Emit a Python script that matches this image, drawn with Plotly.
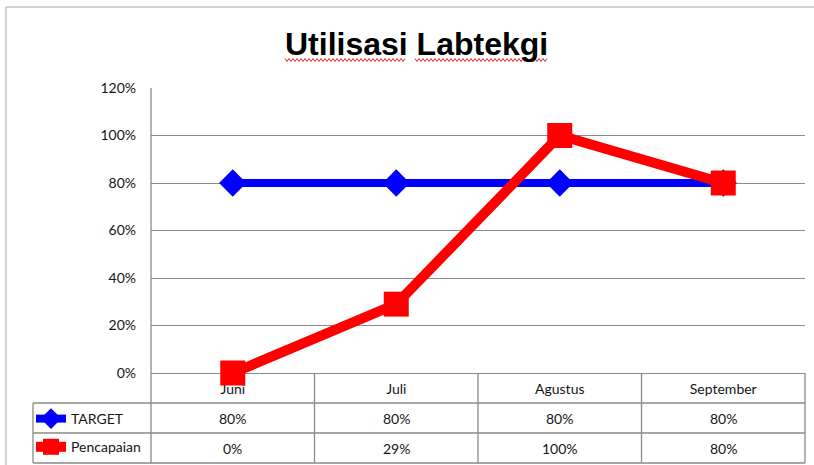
import plotly.graph_objects as go

categories = ["Juni", "Juli", "Agustus", "September"]
target = [0.80, 0.80, 0.80, 0.80]
pencapaian = [0.00, 0.29, 1.00, 0.80]
series_names = ["TARGET", "Pencapaian"]
y_ticks = [0, 0.2, 0.4, 0.6, 0.8, 1.0, 1.2]
y_tick_labels = ["0%", "20%", "40%", "60%", "80%", "100%", "120%"]
title_text = "Utilisasi Labtekgi"

W, H = 814, 465
def px(x): return x / W
def py(y): return 1 - y / H

X0, X1 = 151, 805     # plot area pixels
Y0, Y1 = 88, 373
ROW = 30
LEG_X = 33
GRID = "#8a8a8a"
TXT = "#151515"
FONT = "Lato, 'Open Sans', sans-serif"

fig = go.Figure()
fig.add_trace(go.Scatter(
    x=categories, y=target, name=series_names[0], mode="lines+markers",
    line=dict(color="#0000ff", width=8),
    marker=dict(symbol="diamond", size=21, color="#0000ff"),
    cliponaxis=False, legendgroup="a"))
fig.add_trace(go.Scatter(
    x=categories, y=pencapaian, name=series_names[1], mode="lines+markers",
    line=dict(color="#ff0000", width=10),
    marker=dict(symbol="square", size=25, color="#ff0000"),
    cliponaxis=False, legendgroup="b"))

shapes = []
# outer border
shapes.append(dict(type="rect", xref="paper", yref="paper", x0=px(6), x1=px(830),
                   y0=py(7), y1=py(480), line=dict(color="#a8a8a8", width=1)))
# table horizontal lines
for i in (1, 2, 3):
    yy = Y1 + ROW * i
    shapes.append(dict(type="line", xref="paper", yref="paper", x0=px(LEG_X), x1=px(X1),
                       y0=py(yy), y1=py(yy), line=dict(color=GRID, width=1.3)))
# column boundaries in table
ncat = len(categories)
for k in range(1, ncat + 1):
    xx = X0 + (X1 - X0) * k / ncat
    shapes.append(dict(type="line", xref="paper", yref="paper", x0=px(xx), x1=px(xx),
                       y0=py(Y1), y1=py(Y1 + 3 * ROW), line=dict(color=GRID, width=1.3)))
# left axis extends down through table
shapes.append(dict(type="line", xref="paper", yref="paper", x0=px(X0), x1=px(X0),
                   y0=py(Y0), y1=py(Y1 + 3 * ROW), line=dict(color=GRID, width=1.3)))
# legend column left edge
shapes.append(dict(type="line", xref="paper", yref="paper", x0=px(LEG_X), x1=px(LEG_X),
                   y0=py(Y1 + ROW), y1=py(Y1 + 3 * ROW), line=dict(color=GRID, width=1.3)))

# spell-check squiggles under title words
def squiggle(xa, xb, y):
    pts = []
    x = xa
    up = True
    while x <= xb:
        pts.append((x, y - 1.5 if up else y + 1.5))
        x += 2
        up = not up
    d = "M " + " L ".join(f"{px(a):.5f},{py(b):.5f}" for a, b in pts)
    return dict(type="path", xref="paper", yref="paper", path=d,
                line=dict(color="#e02020", width=1))
shapes.append(squiggle(285, 405, 60))
shapes.append(squiggle(415, 548, 60))

annotations = [dict(text=f"<b>{title_text}</b>", xref="paper", yref="paper",
                    x=px(416), y=py(44), showarrow=False, xanchor="center", yanchor="middle",
                    font=dict(family="Liberation Sans, Arial, sans-serif", size=32, color="#000"))]
for r, vals in enumerate([target, pencapaian]):
    yy = Y1 + ROW * (r + 1) + ROW / 2
    for k, v in enumerate(vals):
        xx = X0 + (X1 - X0) * (k + 0.5) / ncat
        annotations.append(dict(text=f"{round(v * 100)}%", xref="paper", yref="paper",
                                x=px(xx), y=py(yy), showarrow=False,
                                xanchor="center", yanchor="middle",
                                font=dict(family=FONT, size=14, color=TXT)))

fig.update_layout(
    width=W, height=H, margin=dict(l=0, r=0, t=0, b=0, autoexpand=False),
    paper_bgcolor="white", plot_bgcolor="white",
    xaxis=dict(domain=[px(X0), px(X1)], type="category", range=[-0.5, ncat - 0.5],
               automargin=False,
               showgrid=False, showline=True, linecolor=GRID, linewidth=1.3,
               ticks="", tickfont=dict(family=FONT, size=14, color=TXT),
               ticklabelstandoff=3, layer="below traces", zeroline=False, fixedrange=True),
    yaxis=dict(domain=[py(Y1), py(Y0)], range=[0, 1.2], tickvals=y_ticks, automargin=False,
               ticktext=y_tick_labels, showgrid=True, gridcolor=GRID, gridwidth=1.3,
               showline=False, zeroline=False, ticks="", ticklabelstandoff=14,
               tickfont=dict(family=FONT, size=14, color=TXT), layer="below traces"),
    showlegend=True,
    legend=dict(x=px(31), y=py(Y1 + ROW), xanchor="left", yanchor="top",
                font=dict(family=FONT, size=14, color=TXT), tracegroupgap=7,
                bgcolor="rgba(0,0,0,0)", borderwidth=0, itemwidth=30),
    shapes=shapes, annotations=annotations,
)

fig.write_html("out.html", config={"displayModeBar": False},
               post_script="document.body.style.margin='0';document.body.style.padding='0';")
